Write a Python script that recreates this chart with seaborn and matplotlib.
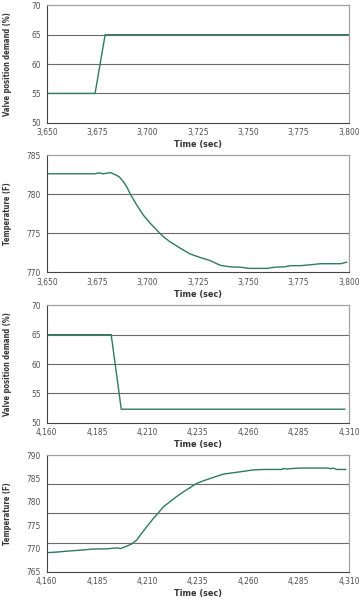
"""
plot.py - respuesta de válvula y temperatura (cuatro paneles).
"""
import numpy as np
import pandas as pd
import matplotlib
matplotlib.use("Agg")
import matplotlib.pyplot as plt
import matplotlib.ticker as mticker
import seaborn as sns

# --- datos ---
t_valv_sube = [3650, 3674, 3679, 3800]
valv_sube = [55, 55, 65, 65]

t_temp_baja = [3650, 3660, 3674, 3676, 3678, 3681.6, 3684, 3686, 3688, 3689.7,
               3691.3, 3694.7, 3698, 3701.3, 3704.6, 3707.9, 3711.2, 3716.2,
               3721.1, 3726.1, 3731.1, 3736.1, 3741, 3746, 3750.9, 3759.2,
               3763, 3768, 3771, 3776, 3782.3, 3786, 3791, 3796, 3798.9]
temp_baja = [782.6, 782.6, 782.6, 782.72, 782.6, 782.75, 782.5, 782.2, 781.6, 780.95,
             780.1, 778.6, 777.3, 776.3, 775.4, 774.55, 773.9, 773.1,
             772.35, 771.9, 771.5, 770.9, 770.7, 770.65, 770.5, 770.5,
             770.65, 770.7, 770.85, 770.85, 771.0, 771.1, 771.1, 771.1, 771.3]

t_valv_baja = [4160, 4192, 4197, 4308]
valv_baja = [65, 65, 52.3, 52.3]

t_temp_sube = [4160, 4165, 4170, 4176.5, 4183, 4190, 4195, 4196.6, 4199, 4202,
               4204.7, 4207.1, 4209.6, 4212.9, 4215.4, 4217.9, 4221.2, 4224.5,
               4227.8, 4231.1, 4234.4, 4238.6, 4242.7, 4247.6, 4252.6, 4257.6,
               4262.5, 4267.5, 4272.5, 4276.6, 4277.4, 4279, 4282, 4285.4,
               4294, 4299.8, 4300.6, 4302, 4304, 4308.5]
temp_sube = [769.07, 769.2, 769.4, 769.6, 769.85, 769.9, 770.1, 769.95, 770.35, 770.9,
             771.8, 773.2, 774.6, 776.4, 777.6, 778.9, 780.0, 781.1,
             782.1, 783.0, 783.9, 784.6, 785.2, 785.9, 786.2, 786.5,
             786.8, 786.9, 786.9, 786.9, 787.1, 787.0, 787.1, 787.2,
             787.2, 787.2, 787.05, 787.2, 786.9, 786.9]

COLOR_LINEA = "#2e7a63"
COLOR_GRID = "#6a6a6a"
COLOR_TEXTO = "#505050"

sns.set_style("white")
plt.rcParams["font.family"] = ["Liberation Sans Narrow", "DejaVu Sans"]
plt.rcParams["font.stretch"] = "condensed"


def _panel(fig, rect, x, y, xlim, ylim, ylabel, grid_y=None):
    ax = fig.add_axes(rect)
    df = pd.DataFrame({"t": x, "v": y})
    sns.lineplot(data=df, x="t", y="v", ax=ax, color=COLOR_LINEA, linewidth=1.0)
    ax.set_xlim(*xlim)
    ax.set_ylim(*ylim)
    ax.xaxis.set_major_locator(mticker.MultipleLocator(25, offset=xlim[0] % 25))
    ax.yaxis.set_major_locator(mticker.MultipleLocator(5))
    ax.xaxis.set_major_formatter(mticker.FuncFormatter(lambda v, _: f"{v:,.0f}"))
    ax.tick_params(axis="both", labelsize=6, colors=COLOR_TEXTO, length=2.5,
                   width=0.6, pad=1.5, direction="out")
    for lbl in ax.get_xticklabels() + ax.get_yticklabels():
        lbl.set_fontstretch("condensed")
    if grid_y is None:
        grid_y = list(np.arange(ylim[0] + 5, ylim[1], 5))
    for g in grid_y:
        ax.axhline(g, color=COLOR_GRID, linewidth=0.8, zorder=0)
    for lado in ["left", "bottom"]:
        ax.spines[lado].set_color("#444444")
        ax.spines[lado].set_linewidth(0.8)
    for lado in ["top", "right"]:
        ax.spines[lado].set_color("#a0a0a0")
        ax.spines[lado].set_linewidth(0.9)
    ax.set_xlabel("Time (sec)", fontsize=6.5, fontweight="bold", color="#333333",
                  labelpad=2, fontstretch="condensed")
    ax.set_ylabel(ylabel, fontsize=5.5, fontweight="bold", color="#333333",
                  fontstretch="condensed")
    ax.yaxis.set_label_coords(-0.114, 0.5)
    return ax


fig = plt.figure(figsize=(3.6, 5.99), dpi=100)
izq, ancho = 0.1297, 0.8397

_panel(fig, [izq, 0.795, ancho, 0.196], t_valv_sube, valv_sube, (3650, 3800), (50, 70),
       "Valve position demand (%)")
_panel(fig, [izq, 0.5454, ancho, 0.1958], t_temp_baja, temp_baja, (3650, 3800), (770, 785),
       "Temperature (F)")
_panel(fig, [izq, 0.2943, ancho, 0.196], t_valv_baja, valv_baja, (4160, 4310), (50, 70),
       "Valve position demand (%)")
# en el original las líneas de la grilla no coinciden con las etiquetas
_panel(fig, [izq, 0.0456, ancho, 0.1948], t_temp_sube, temp_sube, (4160, 4310), (765, 790),
       "Temperature (F)", grid_y=[771.25, 777.5, 783.75])

fig.savefig("out.png", dpi=100)
plt.close(fig)
